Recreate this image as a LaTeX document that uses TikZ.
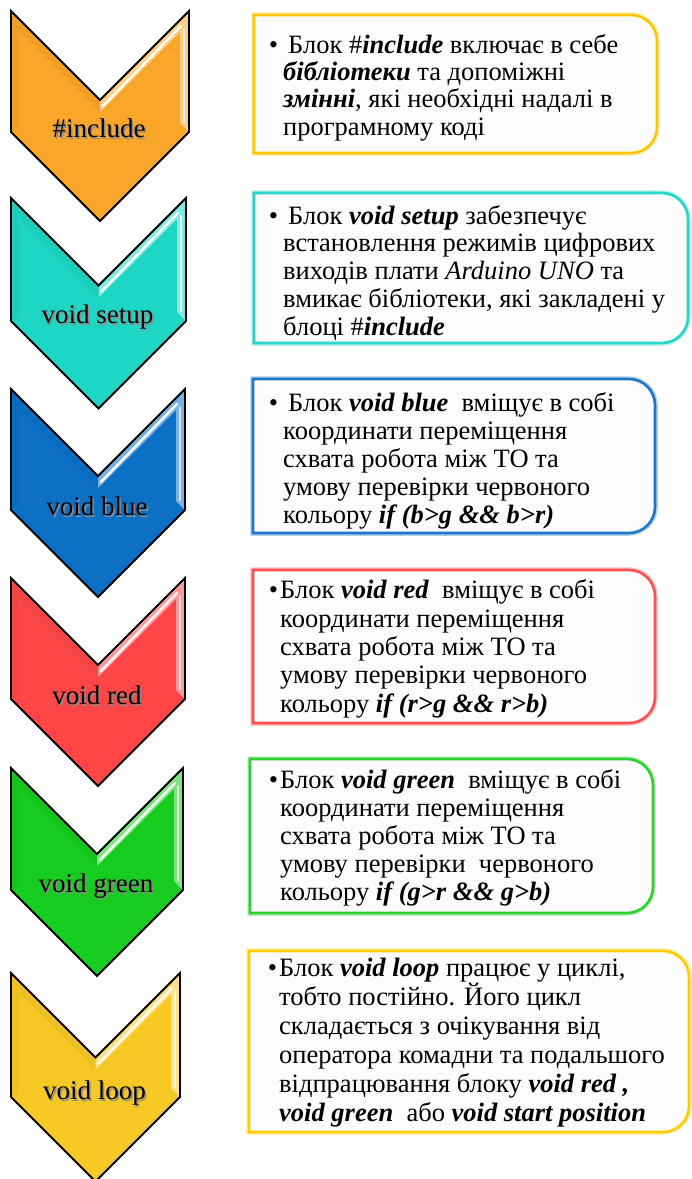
\documentclass[tikz,border=0pt]{standalone}
\usepackage{fontspec}
\setmainfont{Liberation Serif}
\definecolor{cOrange}{RGB}{250,166,40}
\definecolor{cTeal}{RGB}{30,214,196}
\definecolor{cBlue}{RGB}{12,112,196}
\definecolor{cRed}{RGB}{255,70,70}
\definecolor{cGreen}{RGB}{22,204,30}
\definecolor{cYellow}{RGB}{246,200,35}
\definecolor{bGold}{RGB}{255,196,0}
\definecolor{bTeal}{RGB}{40,212,200}
\definecolor{bBlue}{RGB}{30,118,200}
\definecolor{bRed}{RGB}{255,80,80}
\definecolor{bGreen}{RGB}{50,205,50}
\definecolor{bYellow}{RGB}{255,204,0}
\definecolor{boxfill}{RGB}{252,252,252}
\newcommand\bfit[1]{\textbf{\textit{#1}}}
\newcommand\shadowed[1]{\rlap{\raisebox{-1.6pt}{\hspace{1.6pt}\textcolor{black!45}{#1}}}#1}
% chevron: #1 xl, #2 xr, #3 top, #4 side length, #5 colour, #6 name, #7 label
\newcommand\chevron[7]{%
  \pgfmathsetmacro\cx{(#1+#2)/2}%
  \pgfmathsetmacro\hw{(#2-#1)/2}%
  \pgfmathsetmacro\ny{#3+\hw}%
  \pgfmathsetmacro\sb{#3+#4}%
  \pgfmathsetmacro\tp{#3+#4+\hw}%
  \fill[#5] (#1,#3) -- (\cx,\ny) -- (#2,#3) -- (#2,\sb) -- (\cx,\tp) -- (#1,\sb) -- cycle;
  \fill[#5!55!white] (\cx,\ny) -- (#2,#3) -- (#2,\sb) -- (#2-9,\sb-9) -- (#2-9,#3+21) -- (\cx,\ny+12) -- cycle;
  \draw[white, line width=2.5pt, opacity=.9, line cap=round] (\cx+3,\ny+6) -- (#2-8,#3+15);
  \draw[white, line width=2pt, opacity=.7, line cap=round] (#2-5,#3+18) -- (#2-5,\sb-10);
  \fill[#5!80!black, opacity=.2] (#1,#3) -- (\cx,\ny) -- (\cx,\ny+12) -- (#1+8,#3+20) -- (#1+8,\sb-4) -- (#1,\sb) -- cycle;
  \draw[chevline] (#1,#3) -- (\cx,\ny) -- (#2,#3) -- (#2,\sb) -- (\cx,\tp) -- (#1,\sb) -- cycle;
  \node[lbl] (#6) at (\cx-1,\sb-3) {\shadowed{#7}};
}
% box: #1 x1, #2 y1, #3 x2, #4 y2, #5 colour
\newcommand\infobox[5]{%
  \draw[line width=5.5pt, #5!35] (#1,#2) -- (#3-26,#2) arc[start angle=-90,end angle=0,radius=26] -- (#3,#4-26) arc[start angle=0,end angle=90,radius=26] -- (#1,#4) -- cycle;
  \draw[line width=2.6pt, #5, fill=boxfill] (#1,#2) -- (#3-26,#2) arc[start angle=-90,end angle=0,radius=26] -- (#3,#4-26) arc[start angle=0,end angle=90,radius=26] -- (#1,#4) -- cycle;
}
\begin{document}
\begin{tikzpicture}[x=1pt,y=-1pt,
  chevline/.style={draw=black, line width=1.8pt, line join=miter},
  lbl/.style={font=\fontsize{27}{29}\selectfont, inner sep=0pt},
  txt/.style={font=\fontsize{26.5}{#1}\selectfont, align=left, anchor=base west, inner sep=0pt},
  txt/.default=27.7]
\useasboundingbox (0,0) rectangle (692,1179);
\fill[white] (0,0) rectangle (692,1179);

\chevron{11}{189}{11}{121}{cOrange}{c1}{\#include}
\chevron{11}{186}{198}{123}{cTeal}{c2}{void setup}
\chevron{11}{185}{389}{121}{cBlue}{c3}{void blue}
\chevron{11}{185}{578}{121}{cRed}{c4}{void red}
\chevron{11}{183}{768}{122}{cGreen}{c5}{void green}
\chevron{11}{180}{973}{124}{cYellow}{c6}{void loop}

\infobox{254}{15}{657}{153}{bGold}
\infobox{254}{193}{688}{343}{bTeal}
\infobox{253}{379}{655}{533}{bBlue}
\infobox{253}{570}{655}{723}{bRed}
\infobox{250}{759}{653}{913}{bGreen}
\infobox{249}{951}{689}{1132}{bYellow}

% anchor base = baseline of the last line
\node[txt=27.3] (t1) at (283,135) {\llap{•\hspace{5pt}}\hspace{5pt}Блок \#\bfit{include} включає в себе\\
\bfit{бібліотеки} та допоміжні\\
\bfit{змінні}, які необхідні надалі в\\
програмному коді};

\node[txt=27.7] (t2) at (283,335) {\llap{•\hspace{5pt}}\hspace{5pt}Блок \bfit{void setup} забезпечує\\
встановлення режимів цифрових\\
виходів плати \textit{Arduino UNO} та\\
вмикає бібліотеки, які закладені у\\
блоці \#\bfit{include}};

\node[txt=28] (t3) at (283,523) {\llap{•\hspace{5pt}}\hspace{5pt}Блок \bfit{void blue}\ \ вміщує в собі\\
координати переміщення\\
схвата робота між ТО та\\
умову перевірки червоного\\
кольору \bfit{if (b>g \&\& b>r)}};

\node[txt=28.3] (t4) at (280,712) {\llap{•\hspace{2pt}}Блок \bfit{void red}\ \ вміщує в собі\\
координати переміщення\\
схвата робота між ТО та\\
умову перевірки червоного\\
кольору \bfit{if (r>g \&\& r>b)}};

\node[txt=27.8] (t5) at (280,900) {\llap{•\hspace{2pt}}Блок \bfit{void green}\ \ вміщує в собі\\
координати переміщення\\
схвата робота між ТО та\\
умову перевірки\ \ червоного\\
кольору \bfit{if (g>r \&\& g>b)}};

\node[txt=29] (t6) at (279,1121) {\llap{•\hspace{2pt}}Блок \bfit{void loop} працює у циклі,\\
тобто постійно. Його цикл\\
складається з очікування від\\
оператора комадни та подальшого\\
відпрацювання блоку \bfit{void red ,}\\
\bfit{void green}\ \ або \bfit{void start position}};
\end{tikzpicture}
\end{document}
